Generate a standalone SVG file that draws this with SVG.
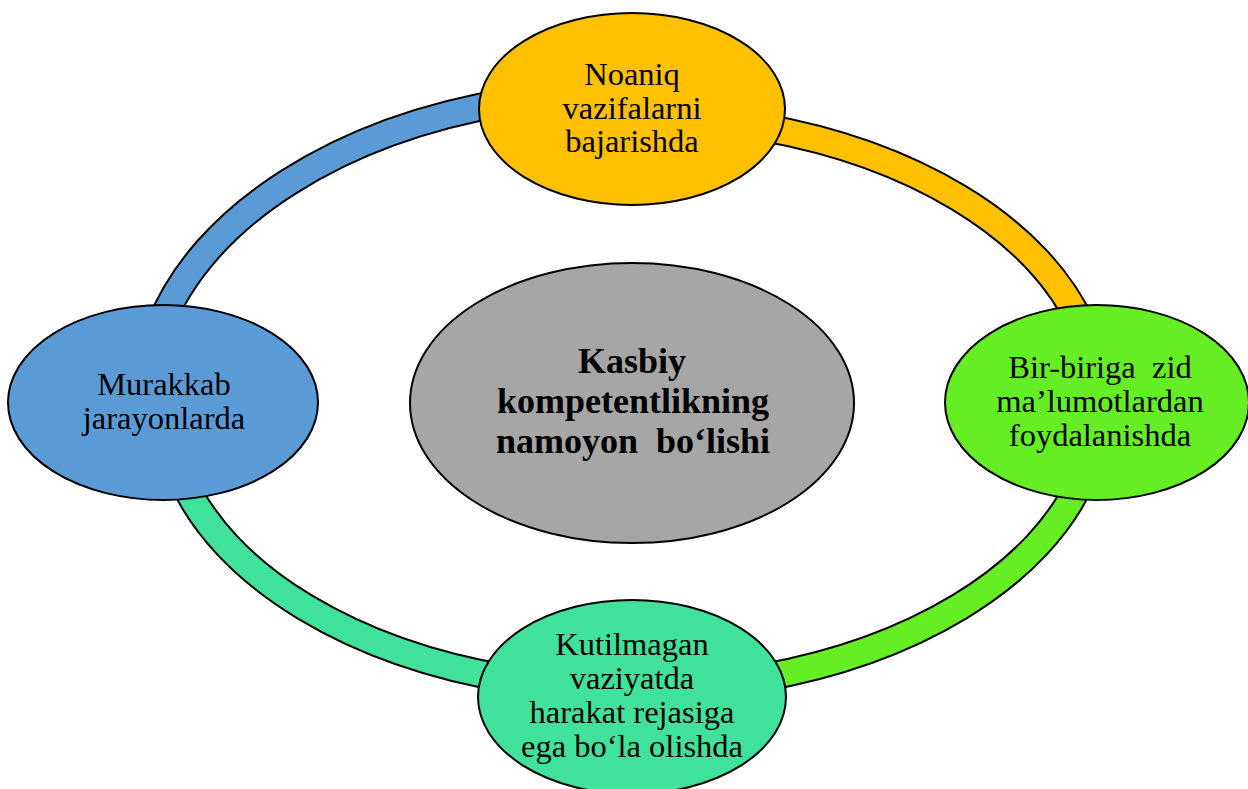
<svg xmlns="http://www.w3.org/2000/svg" width="1248" height="789" viewBox="0 0 1248 789">
<style>
.edge-out{fill:none;stroke:#000;stroke-width:29}
.edge-in{fill:none;stroke-width:25}
.node{stroke:#000;stroke-width:2}
.t{font-family:"Liberation Serif","Times New Roman",serif;font-size:32.5px;fill:#000;text-anchor:middle;white-space:pre}
.c{font-family:"Liberation Serif","Times New Roman",serif;font-size:36px;font-weight:bold;fill:#000;text-anchor:middle;white-space:pre}
</style>
<rect width="1248" height="789" fill="#fff"/>
<g id="connectors">
  <path class="edge-out" d="M159.5 327 A487 310 0 0 1 514 101"/>
  <path class="edge-in" stroke="#5B9BD5" d="M159.5 327 A487 310 0 0 1 514 101"/>
  <path class="edge-out" d="M745 124.5 A466.7 286 0 0 1 1082.8 328"/>
  <path class="edge-in" stroke="#FFC000" d="M745 124.5 A466.7 286 0 0 1 1082.8 328"/>
  <path class="edge-out" d="M1082.8 477 A466.7 286 0 0 1 745 680.5"/>
  <path class="edge-in" stroke="#66EE24" d="M1082.8 477 A466.7 286 0 0 1 745 680.5"/>
  <path class="edge-out" d="M519 680.5 A466.7 286 0 0 1 181.2 477"/>
  <path class="edge-in" stroke="#40E19A" d="M519 680.5 A466.7 286 0 0 1 181.2 477"/>
</g>
<g id="node-top">
  <ellipse class="node" cx="632" cy="109" rx="153" ry="96" fill="#FFC000"/>
  <text class="t" x="632" y="85">Noaniq</text>
  <text class="t" x="632" y="118.5">vazifalarni</text>
  <text class="t" x="632" y="152">bajarishda</text>
</g>
<g id="node-left">
  <ellipse class="node" cx="163" cy="402.5" rx="155" ry="97.5" fill="#5B9BD5"/>
  <text class="t" x="164" y="395">Murakkab</text>
  <text class="t" x="164" y="429">jarayonlarda</text>
</g>
<g id="node-right">
  <ellipse class="node" cx="1097" cy="402.5" rx="152" ry="97.5" fill="#66EE24"/>
  <text class="t" x="1100" y="378">Bir-biriga  zid</text>
  <text class="t" x="1100" y="412">ma’lumotlardan</text>
  <text class="t" x="1100" y="446">foydalanishda</text>
</g>
<g id="node-bottom">
  <ellipse class="node" cx="632" cy="697" rx="154" ry="97" fill="#40E19A"/>
  <text class="t" x="632" y="655">Kutilmagan</text>
  <text class="t" x="632" y="689">vaziyatda</text>
  <text class="t" x="632" y="723">harakat rejasiga</text>
  <text class="t" x="632" y="757">ega bo‘la olishda</text>
</g>
<g id="node-center">
  <ellipse class="node" cx="632" cy="403" rx="222" ry="140" fill="#A6A6A6"/>
  <text class="c" x="632" y="373">Kasbiy</text>
  <text class="c" x="633" y="413">kompetentlikning</text>
  <text class="c" x="633" y="453">namoyon  bo‘lishi</text>
</g>
</svg>
